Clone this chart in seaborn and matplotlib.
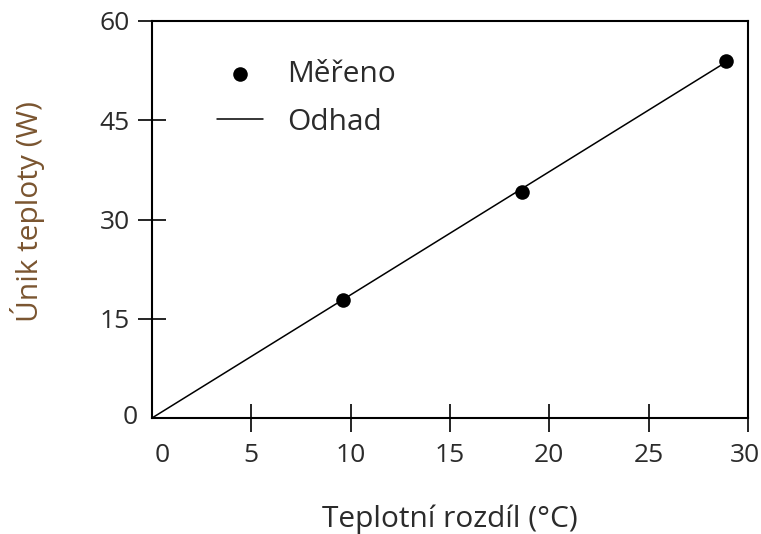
import matplotlib
matplotlib.use("Agg")
import matplotlib.pyplot as plt
import matplotlib.transforms as mtransforms
import seaborn as sns
import pandas as pd

# measured points (temperature difference vs. heat loss)
mereno_x = [9.6, 18.6, 28.9]
mereno_y = [17.9, 34.2, 54.0]

# estimated line
odhad_x = [0, 28.9]
odhad_y = [0, 53.8]

x_ticks = [0, 5, 10, 15, 20, 25, 30]
y_ticks = [0, 15, 30, 45, 60]

sns.set_style("white")
plt.rcParams['font.family'] = ['Open Sans', 'DejaVu Sans']
text_color = "#2b2b2b"
fs_tick = 19
fs_label = 21.5

fig = plt.figure(figsize=(7.61, 5.34), dpi=100)
ax = fig.add_axes([152 / 761, 1 - 418 / 534, 596 / 761, 397 / 534])

df_pts = pd.DataFrame({"x": mereno_x, "y": mereno_y})
df_line = pd.DataFrame({"x": odhad_x, "y": odhad_y})

sns.scatterplot(data=df_pts, x="x", y="y", ax=ax, color="black", s=110,
                edgecolor="black", linewidth=0, label="Měřeno", zorder=3)
sns.lineplot(data=df_line, x="x", y="y", ax=ax, color="black", lw=1.1,
             label="Odhad", zorder=2)

ax.set_xlim(0, 30)
ax.set_ylim(0, 60)
ax.set_xticks(x_ticks)
ax.set_yticks(y_ticks)
ax.tick_params(axis='both', bottom=True, left=True, direction='inout',
               length=20, width=1.2, colors='black', labelcolor=text_color,
               labelsize=fs_tick)
ax.tick_params(axis='x', pad=8)
ax.tick_params(axis='y', pad=6)
ax.xaxis.get_major_ticks()[0].tick1line.set_visible(False)
ax.yaxis.get_major_ticks()[0].tick1line.set_visible(False)

# the zero labels sit a little off their ticks in the original
dpi_tr = fig.dpi_scale_trans
xl = ax.get_xticklabels()
xl[0].set_transform(xl[0].get_transform() + mtransforms.ScaledTranslation(10 / 100, 0, dpi_tr))
xl[-1].set_transform(xl[-1].get_transform() + mtransforms.ScaledTranslation(-3 / 100, 0, dpi_tr))
yl0 = ax.get_yticklabels()[0]
yl0.set_transform(yl0.get_transform() + mtransforms.ScaledTranslation(8 / 100, 3 / 100, dpi_tr))

for sp in ax.spines.values():
    sp.set_color("black")
    sp.set_linewidth(1.5)

ax.set_xlabel("Teplotní rozdíl (°C)", fontsize=fs_label, color=text_color)
ax.set_ylabel("Únik teploty (W)", fontsize=fs_label, color="#7a5530")
ax.xaxis.set_label_coords(0.5, -0.218)
ax.yaxis.set_label_coords(-0.18, 0.52)

ax.legend(loc='upper left', bbox_to_anchor=(0.109, 0.901), frameon=False,
          fontsize=fs_label, borderpad=0, borderaxespad=0, handlelength=1.54,
          handletextpad=0.8, labelspacing=0.62, labelcolor=text_color)

fig.savefig("out.png", dpi=100)
